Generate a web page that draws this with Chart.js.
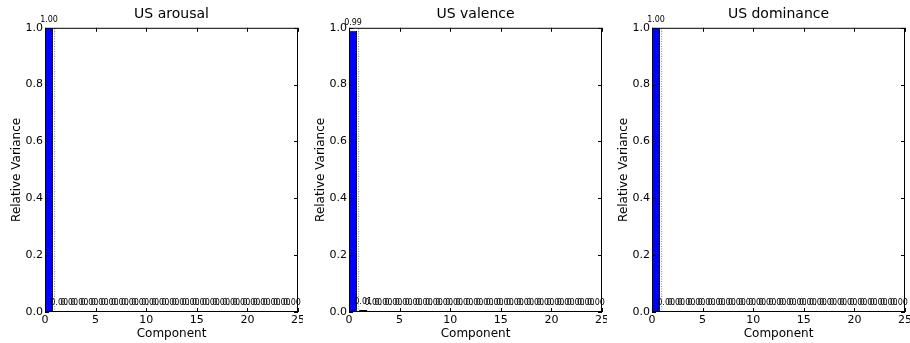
<!DOCTYPE html>
<html>
<head>
<meta charset="utf-8">
<script src="https://cdn.jsdelivr.net/npm/chart.js@4.4.1/dist/chart.umd.min.js"></script>
<style>
  body { margin: 0; background: #fff; }
  .panel { position: absolute; top: 0; }
</style>
</head>
<body>
<div class="panel" style="left:0px"><canvas id="c0" width="303" height="343"></canvas></div>
<div class="panel" style="left:304px"><canvas id="c1" width="303" height="343"></canvas></div>
<div class="panel" style="left:607px"><canvas id="c2" width="303" height="343"></canvas></div>
<script>
// component index 0..24
const components = Array.from({length: 25}, (_, i) => i);

const titles = ['US arousal', 'US valence', 'US dominance'];

// relative variance per component
const arousal = [1.00, 0.003, 0.003, 0.003, 0.003, 0.003, 0.003, 0.003, 0.003, 0.003,
  0.003, 0.003, 0.003, 0.003, 0.003, 0.003, 0.003, 0.003, 0.003, 0.003,
  0.003, 0.003, 0.003, 0.003, 0.003];
const valence = [0.99, 0.007, 0.003, 0.003, 0.003, 0.003, 0.003, 0.003, 0.003, 0.003,
  0.003, 0.003, 0.003, 0.003, 0.003, 0.003, 0.003, 0.003, 0.003, 0.003,
  0.003, 0.003, 0.003, 0.003, 0.003];
const dominance = [1.00, 0.003, 0.003, 0.003, 0.003, 0.003, 0.003, 0.003, 0.003, 0.003,
  0.003, 0.003, 0.003, 0.003, 0.003, 0.003, 0.003, 0.003, 0.003, 0.003,
  0.003, 0.003, 0.003, 0.003, 0.003];

const xTicks = [0, 5, 10, 15, 20, 25];
const yTicks = [0, 0.2, 0.4, 0.6, 0.8, 1.0];

// dotted guide next to the first bar (x in component units)
const guideX = [0.95, 0.95];
const guideY = [0, 1];

const FONT = "'DejaVu Sans', sans-serif";

// value labels above each bar
const barLabels = {
  id: 'barLabels',
  afterDatasetsDraw(chart) {
    const ctx = chart.ctx;
    const meta = chart.getDatasetMeta(0);
    const vals = chart.data.datasets[0].data;
    ctx.save();
    ctx.font = '8px ' + FONT;
    ctx.fillStyle = '#000';
    ctx.textAlign = 'center';
    ctx.textBaseline = 'bottom';
    meta.data.forEach((bar, i) => {
      ctx.fillText(vals[i].y.toFixed(2), bar.x, bar.y - 4);
    });
    ctx.restore();
  }
};

// matplotlib style frame and inward ticks
const frame = {
  id: 'frame',
  afterDatasetsDraw(chart) {
    const {ctx, chartArea: a, scales: {x, y}} = chart;
    ctx.save();
    ctx.strokeStyle = '#000';
    ctx.lineWidth = 1;
    ctx.strokeRect(a.left + 0.5, a.top + 0.5, a.right - a.left - 1, a.bottom - a.top - 1);
    ctx.beginPath();
    xTicks.forEach(v => {
      const px = Math.round(x.getPixelForValue(v)) + 0.5;
      ctx.moveTo(px, a.bottom); ctx.lineTo(px, a.bottom - 4);
      ctx.moveTo(px, a.top); ctx.lineTo(px, a.top + 4);
    });
    yTicks.forEach(v => {
      const py = Math.round(y.getPixelForValue(v)) + 0.5;
      ctx.moveTo(a.left, py); ctx.lineTo(a.left + 4, py);
      ctx.moveTo(a.right, py); ctx.lineTo(a.right - 4, py);
    });
    ctx.stroke();
    ctx.restore();
  }
};

function makeChart(id, title, values) {
  const ctx = document.getElementById(id).getContext('2d');
  return new Chart(ctx, {
    type: 'bar',
    data: {
      datasets: [{
        type: 'bar',
        data: components.map((c, i) => ({x: c + 0.4, y: values[i]})),
        backgroundColor: '#0000ff',
        borderColor: '#000',
        borderWidth: 1,
        borderSkipped: false,
        barPercentage: 0.8,
        categoryPercentage: 1.0
      }, {
        type: 'line',
        data: guideX.map((gx, i) => ({x: gx, y: guideY[i]})),
        borderColor: '#888',
        borderWidth: 1,
        borderDash: [1, 1.5],
        pointRadius: 0,
        fill: false
      }]
    },
    options: {
      responsive: false,
      animation: false,
      layout: { padding: { left: 0, right: 5, top: 0, bottom: 0 } },
      plugins: {
        legend: { display: false },
        tooltip: { enabled: false },
        title: {
          display: true,
          fullSize: false,
          text: title,
          color: '#000',
          font: { family: FONT, size: 14, weight: 'normal' },
          padding: { top: 6, bottom: 5 }
        }
      },
      scales: {
        x: {
          type: 'linear',
          min: 0, max: 25,
          offset: false,
          grid: { display: false, drawTicks: false },
          border: { display: false },
          ticks: {
            stepSize: 5,
            color: '#000',
            padding: 2,
            maxRotation: 0,
            font: { family: FONT, size: 11 }
          },
          title: {
            display: true,
            text: 'Component',
            color: '#000',
            font: { family: FONT, size: 12 },
            padding: { top: 0, bottom: 2 }
          },
          afterFit(s) { s.height = 31; s.paddingLeft = 0; s.paddingRight = 0; }
        },
        y: {
          min: 0, max: 1,
          grid: { display: false, drawTicks: false },
          border: { display: false },
          ticks: {
            stepSize: 0.2,
            color: '#000',
            padding: 2,
            font: { family: FONT, size: 11 },
            callback: v => v.toFixed(1)
          },
          title: {
            display: true,
            text: 'Relative Variance',
            color: '#000',
            font: { family: FONT, size: 12 },
            padding: { top: 10, bottom: 0 }
          },
          afterFit(s) { s.width = 45; s.paddingTop = 0; s.paddingBottom = 0; }
        }
      }
    },
    plugins: [barLabels, frame]
  });
}

makeChart('c0', titles[0], arousal);
makeChart('c1', titles[1], valence);
makeChart('c2', titles[2], dominance);
</script>
</body>
</html>
